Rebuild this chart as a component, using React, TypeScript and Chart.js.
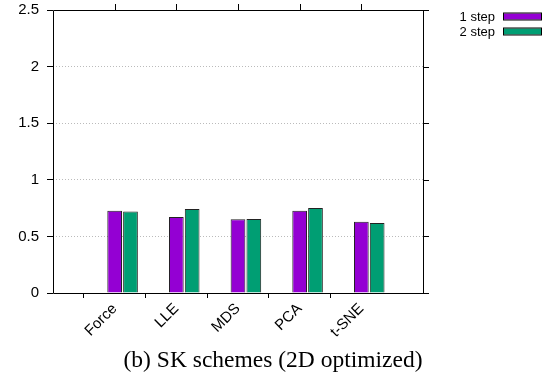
import React, { useEffect, useRef } from "react";
import { Chart, registerables } from "chart.js";

Chart.register(...registerables);

const categories = ["", "Force", "LLE", "MDS", "PCA", "t-SNE", ""];
const oneStep = [null, 0.726, 0.671, 0.651, 0.726, 0.629, null];
const twoStep = [null, 0.72, 0.741, 0.654, 0.75, 0.618, null];
const seriesLabels = ["1 step", "2 step"];
const seriesColors = ["#9400D3", "#009E73"];
const yTicks = [0, 0.5, 1, 1.5, 2, 2.5];
const caption = "(b) SK schemes (2D optimized)";

const SANS = "'Liberation Sans', Arial, sans-serif";

const decorPlugin = {
  id: "decor",
  afterDraw(chart: any) {
    const { ctx, chartArea } = chart;
    const { left, right, top, bottom } = chartArea;
    const xs = chart.scales.x;
    const ys = chart.scales.y;
    ctx.save();
    ctx.strokeStyle = "#000";
    ctx.lineWidth = 1;
    // border
    ctx.beginPath();
    ctx.rect(Math.round(left) + 0.5, Math.round(top) + 0.5, Math.round(right - left), Math.round(bottom - top));
    ctx.stroke();
    // top mirror ticks
    ctx.beginPath();
    categories.forEach((c, i) => {
      if (!c) return;
      const px = Math.round(xs.getPixelForValue(i)) + 0.5;
      ctx.moveTo(px, top);
      ctx.lineTo(px, top - 6);
    });
    // right mirror ticks
    yTicks.forEach((v) => {
      const py = Math.round(ys.getPixelForValue(v)) + 0.5;
      ctx.moveTo(right, py);
      ctx.lineTo(right + 6, py);
    });
    ctx.stroke();
    // legend
    ctx.font = `13px ${SANS}`;
    ctx.textAlign = "right";
    ctx.textBaseline = "middle";
    seriesLabels.forEach((lab, i) => {
      const cy = 16.5 + i * 15;
      ctx.fillStyle = "#000";
      ctx.fillText(lab, 495, cy + 1);
      ctx.fillStyle = seriesColors[i];
      ctx.fillRect(503, cy - 3, 38, 6);
      ctx.strokeStyle = "#000";
      ctx.strokeRect(503.5, cy - 3.5, 38, 7);
    });
    // caption
    ctx.font = `23.5px 'Liberation Serif', 'Times New Roman', serif`;
    ctx.fillStyle = "#000";
    ctx.textAlign = "center";
    ctx.textBaseline = "alphabetic";
    ctx.fillText(caption, 273, 367);
    ctx.restore();
  },
};

export default function App() {
  const ref = useRef<HTMLCanvasElement>(null);
  useEffect(() => {
    if (!ref.current) return;
    const chart = new Chart(ref.current, {
      type: "bar",
      data: {
        labels: categories,
        datasets: [
          { label: "", data: categories.map(() => null), backgroundColor: "transparent" },
          {
            label: seriesLabels[0],
            data: oneStep,
            backgroundColor: seriesColors[0],
            borderColor: "#222",
            borderWidth: 1,
          },
          {
            label: seriesLabels[1],
            data: twoStep,
            backgroundColor: seriesColors[1],
            borderColor: "#222",
            borderWidth: 1,
          },
        ],
      },
      options: {
        animation: false,
        responsive: false,
        maintainAspectRatio: false,
        layout: { padding: { top: 10, right: 125, bottom: 0, left: 0 } },
        datasets: { bar: { categoryPercentage: 0.77, barPercentage: 0.93 } },
        plugins: { legend: { display: false }, tooltip: { enabled: false }, title: { display: false } },
        scales: {
          x: {
            type: "category",
            offset: false,
            grid: {
              display: true,
              drawOnChartArea: false,
              color: "transparent",
              tickColor: (c: any) => (categories[c.index] ? "#000" : "transparent"),
              tickLength: 5,
            },
            border: { display: false },
            ticks: {
              autoSkip: false,
              maxRotation: 45,
              minRotation: 45,
              color: "#000",
              padding: 2,
              font: { family: SANS, size: 15 },
            },
            afterFit(scale: any) {
              scale.height = 88;
              scale.paddingLeft = 0;
              scale.paddingRight = 0;
            },
          },
          y: {
            min: 0,
            max: 2.5,
            grid: {
              color: (c: any) => (c.tick && (c.tick.value === 0 || c.tick.value === 2.5) ? "transparent" : "#bbbbbb"),
              tickColor: "#000",
              tickLength: 6,
              tickBorderDash: [],
            },
            border: { display: false, dash: [1, 2] },
            ticks: {
              stepSize: 0.5,
              color: "#000",
              padding: 8,
              font: { family: SANS, size: 15 },
              callback: (v: any) => String(Number(v)),
            },
            afterFit(scale: any) {
              scale.width = 53;
              scale.paddingTop = 0;
              scale.paddingBottom = 0;
            },
          },
        },
      } as any,
      plugins: [decorPlugin],
    });
    return () => chart.destroy();
  }, []);
  return (
    <div style={{ position: "fixed", left: 0, top: 0, width: 548, height: 381, background: "#fff" }}>
      <canvas ref={ref} width={548} height={381} style={{ width: 548, height: 381 }} />
    </div>
  );
}
